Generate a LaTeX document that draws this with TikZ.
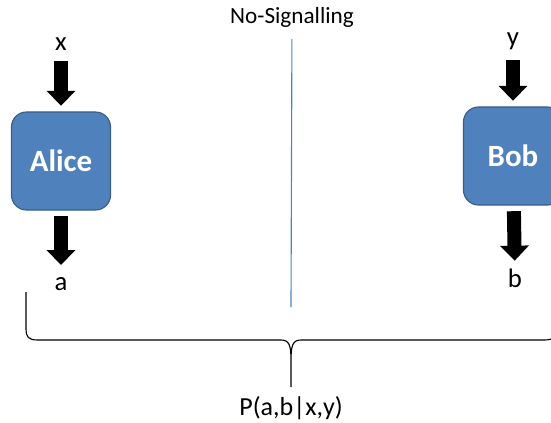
\documentclass[tikz,border=0pt]{standalone}
\usepackage{fontspec}
\setmainfont{Carlito}
\usepackage{xcolor}
\usetikzlibrary{arrows.meta}
\definecolor{boxblue}{HTML}{4F81BD}
\definecolor{boxedge}{HTML}{385D8A}

\begin{document}
\begin{tikzpicture}[
x=0.025cm, y=-0.025cm,
party/.style={rectangle, rounded corners=0.375cm, fill=boxblue, draw=boxedge, line width=0.8pt, minimum width=2.475cm, minimum height=2.45cm, text=white, font=\bfseries\fontsize{22}{26}\selectfont},
io/.style={anchor=base, font=\fontsize{19}{22}\selectfont},
lbl/.style={font=\fontsize{16.5}{19}\selectfont},
flow/.style={-{Triangle[width=0.7cm,length=0.375cm]}, line width=0.35cm},
divider/.style={boxblue, line width=0.8pt},
]
\useasboundingbox (0,0) rectangle (551,422);
\clip (0,0) rectangle (551,422);

%parties
\node(alice)[party] at (61,161){Alice};
\node(bob)[party] at (513,156){Bob};

%inputs and outputs
\node(x)[io] at (61,50){x};
\node(a)[io] at (61,290){a};
\node(y)[io] at (513,45){y};
\node(b)[io] at (515,287){b};

\draw[flow, shorten <=4pt, shorten >=4pt] (x) -- (alice);
\draw[flow, shorten <=4pt, shorten >=5pt] (alice) -- (a);
\draw[flow, shorten <=4pt, shorten >=4pt] (y) -- (bob);
\draw[flow, shorten <=4pt, shorten >=2pt] (bob) -- (b);

%no-signalling wall
\node(sig)[lbl] at (292,17){No-Signalling};
\coordinate (wall) at (291,307);
\draw[divider, shorten <=5pt] (sig) -- (wall);

%brace
\node(prob)[lbl, font=\fontsize{18.5}{22}\selectfont] at (291,408){P(a,b|x,y)};
\coordinate (bl) at (26,292);
\coordinate (br) at (556,292);
\coordinate (tip) at (291,387);
\draw[line width=0.8pt] (bl) -- (26,328) .. controls (26,337) and (28,340) .. (38,340) -- (281,340)
  .. controls (289,340) and (291,345) .. (291,360) -- (tip)
  (tip) -- (291,360) .. controls (291,345) and (293,340) .. (301,340) -- (544,340)
  .. controls (554,340) and (556,337) .. (556,328) -- (br);

\end{tikzpicture}
\end{document}
